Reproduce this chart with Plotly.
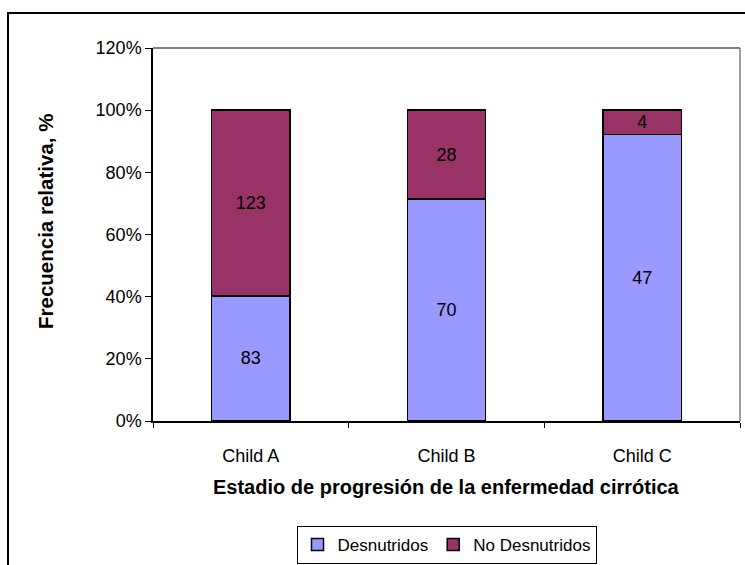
import plotly.graph_objects as go

categories = ["Child A", "Child B", "Child C"]
desnutridos = [83, 70, 47]
no_desnutridos = [123, 28, 4]
series_names = ["Desnutridos", "No Desnutridos"]
colors = ["#9999FF", "#993366"]
y_ticks = [0, 20, 40, 60, 80, 100, 120]

W, H = 745, 565
L, R, T, B = 153, 5, 48, 144
pw, ph = W - L - R, H - T - B

def px_x(x):
    return (x - L) / pw

def px_y(y):
    return (H - B - y) / ph

fig = go.Figure()
for name, vals, col in zip(series_names, [desnutridos, no_desnutridos], colors):
    fig.add_trace(go.Bar(
        x=categories, y=vals, name=name,
        marker=dict(color=col, line=dict(color="black", width=1.5)),
        text=[str(v) for v in vals], textposition="inside", textangle=0,
        insidetextanchor="middle", constraintext="none",
        textfont=dict(family="Liberation Sans, Arial", size=18, color="black"),
        hoverinfo="skip",
    ))

fig.update_layout(
    width=W, height=H,
    margin=dict(l=L, r=R, t=T, b=B, autoexpand=False),
    barmode="stack", barnorm="percent", bargap=0.6,
    plot_bgcolor="white", paper_bgcolor="white",
    font=dict(family="Liberation Sans, Arial", size=18, color="black"),
    showlegend=True,
    legend=dict(
        orientation="h", x=0.5, xanchor="center",
        y=px_y(526), yanchor="top",
        bordercolor="black", borderwidth=1,
        font=dict(size=17), traceorder="normal",
        itemwidth=30,
    ),
    xaxis=dict(
        showline=True, linecolor="black", linewidth=1.5,
        ticks="outside", tickson="boundaries", ticklen=5, tickcolor="black",
        ticklabelstandoff=18, showgrid=False, automargin=False,
    ),
    yaxis=dict(
        range=[0, 120], tickvals=y_ticks, ticktext=[f"{v}%" for v in y_ticks],
        showline=True, linecolor="black", linewidth=1.5,
        ticks="outside", ticklen=6, tickcolor="black",
        showgrid=False, zeroline=False, automargin=False,
    ),
    shapes=[
        # outer chart frame
        dict(type="rect", xref="paper", yref="paper",
             x0=px_x(8), x1=px_x(760), y0=px_y(580), y1=px_y(13),
             line=dict(color="black", width=2)),
        # plot-area top and right border
        dict(type="line", xref="paper", yref="paper",
             x0=0, x1=1, y0=1, y1=1, line=dict(color="black", width=1)),
        dict(type="line", xref="paper", yref="paper",
             x0=1, x1=1, y0=0, y1=1, line=dict(color="#808080", width=1.5)),
    ],
    annotations=[
        dict(text="<b>Estadio de progresión de la enfermedad cirrótica</b>",
             xref="paper", yref="paper", x=0.5, y=px_y(487),
             xanchor="center", yanchor="middle", showarrow=False,
             font=dict(size=20)),
        dict(text="<b>Frecuencia relativa, %</b>",
             xref="paper", yref="paper", x=px_x(45), y=px_y(222),
             xanchor="center", yanchor="middle", showarrow=False,
             textangle=-90, font=dict(size=20.5)),
    ],
)

fig.write_html("out.html")
